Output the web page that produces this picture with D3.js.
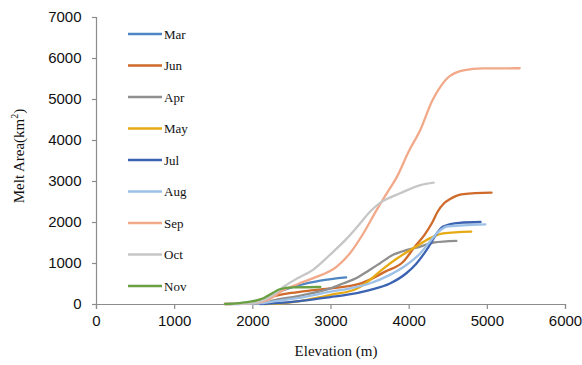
<!DOCTYPE html>
<html><head><meta charset="utf-8">
<script src="https://cdn.jsdelivr.net/npm/d3@7"></script>
<style>
html,body{margin:0;padding:0;background:#fff;}
svg{display:block;}
</style></head>
<body>
<svg id="chart" width="582" height="365"></svg>
<script>
const xTicks = [0,1000,2000,3000,4000,5000,6000];
const yTicks = [0,1000,2000,3000,4000,5000,6000,7000];
const months = ["Mar","Jun","Apr","May","Jul","Aug","Sep","Oct","Nov"];
const colors = ["#4e86c4","#cf6a2b","#8f8f8f","#e6aa14","#3c62b2","#9dc0e6","#f2a98a","#c6c6c6","#6aa044"];

const marElev = [1800,2050,2200,2350,2600,2870,3200];
const marArea = [0,30,150,300,460,570,650];
const junElev = [1650,2000,2100,2350,2500,2750,3000,3400,3700,3930,4080,4200,4300,4370,4450,4530,4700,5060];
const junArea = [0,20,100,220,270,330,380,510,790,1030,1400,1680,1980,2250,2450,2560,2680,2715];
const aprElev = [1700,2100,2300,2600,3000,3160,3340,3500,3630,3800,3980,4150,4320,4610];
const aprArea = [0,20,100,200,380,500,640,830,990,1200,1320,1400,1500,1540];
const mayElev = [2150,2400,2700,3000,3340,3500,3680,3850,4060,4270,4440,4800];
const mayArea = [0,20,100,220,380,580,870,1110,1360,1600,1720,1765];
const julElev = [2100,2300,2600,3000,3200,3500,3760,3970,4100,4230,4360,4440,4650,4920];
const julArea = [0,20,70,170,220,340,500,750,990,1320,1720,1890,1980,2000];
const augElev = [1700,2100,2300,2600,3000,3250,3500,3760,3970,4150,4270,4380,4490,4700,4980];
const augArea = [0,20,70,150,300,380,500,710,950,1240,1520,1760,1890,1920,1940];
const sepElev = [1650,2000,2200,2400,2600,2780,3080,3250,3420,3590,3720,3850,4000,4150,4300,4380,4490,4700,4950,5420];
const sepArea = [0,20,100,340,500,630,910,1240,1720,2290,2700,3100,3720,4250,4950,5220,5500,5700,5745,5750];
const octElev = [1650,2000,2250,2400,2570,2780,2990,3210,3380,3505,3630,3890,4150,4320];
const octArea = [0,20,200,420,620,840,1195,1600,1970,2250,2460,2700,2900,2960];
const novElev = [1650,1800,1970,2140,2270,2350,2520,2870];
const novArea = [0,15,55,140,280,360,405,415];

const seriesElev = [marElev,junElev,aprElev,mayElev,julElev,augElev,sepElev,octElev,novElev];
const seriesArea = [marArea,junArea,aprArea,mayArea,julArea,augArea,sepArea,octArea,novArea];

const svg = d3.select("#chart");
const x = d3.scaleLinear().domain([0,6000]).range([96,565]);
const y = d3.scaleLinear().domain([0,7000]).range([304,17]);

const axisColor = "#8c8c8c";
const gx = svg.append("g").attr("transform","translate(0,304)")
  .call(d3.axisBottom(x).tickValues(xTicks).tickSize(5).tickPadding(6).tickFormat(d3.format("d")));
const gy = svg.append("g").attr("transform","translate(96,0)")
  .call(d3.axisLeft(y).tickValues(yTicks).tickSize(4).tickPadding(10).tickFormat(d3.format("d")));
[gx,gy].forEach(g=>{
  g.select(".domain").attr("stroke",axisColor).attr("stroke-width",1.2);
  g.selectAll(".tick line").attr("stroke",axisColor).attr("stroke-width",1.2);
  g.selectAll(".tick text").attr("fill","#111").attr("font-family","'Liberation Sans', Arial, sans-serif").attr("font-size","15px");
});
gy.selectAll(".tick text").attr("dx","-0.5");

const line = d3.line().x(d=>x(d[0])).y(d=>y(d[1])).curve(d3.curveMonotoneX);

months.forEach((m,i)=>{
  const pts = seriesElev[i].map((e,j)=>[e, seriesArea[i][j]]);
  svg.append("path").datum(pts).attr("d",line)
    .attr("fill","none").attr("stroke",colors[i]).attr("stroke-width",2.3)
    .attr("stroke-linejoin","round").attr("stroke-linecap","round");
});

// legend
const leg = svg.append("g");
months.forEach((m,i)=>{
  const yy = 34 + i*31.5;
  leg.append("line").attr("x1",128).attr("x2",162).attr("y1",yy).attr("y2",yy)
    .attr("stroke",colors[i]).attr("stroke-width",2.3);
  leg.append("text").attr("x",164).attr("y",yy).attr("dy","0.35em")
    .attr("font-family","'Liberation Serif','Times New Roman',serif").attr("font-size","13px")
    .attr("fill","#111").text(m);
});

// axis titles
svg.append("text").attr("x",336).attr("y",356).attr("text-anchor","middle")
  .attr("font-family","'Liberation Serif','Times New Roman',serif").attr("font-size","15px").attr("fill","#111")
  .text("Elevation (m)");
const yt = svg.append("text").attr("transform","translate(24,156) rotate(-90)").attr("text-anchor","middle")
  .attr("font-family","'Liberation Serif','Times New Roman',serif").attr("font-size","15px").attr("fill","#111");
yt.append("tspan").text("Melt Area(km");
yt.append("tspan").attr("font-size","10px").attr("dy","-6").text("2");
yt.append("tspan").attr("dy","6").text(")");
</script>
</body></html>
